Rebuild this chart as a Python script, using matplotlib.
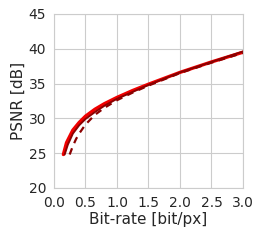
import matplotlib
matplotlib.use("Agg")
import matplotlib.pyplot as plt
import seaborn as sns

# rate-distortion curves
rate_a = [0.15, 0.2, 0.3, 0.4, 0.5, 0.65, 0.8, 1.0, 1.25, 1.5, 2.0, 2.5, 3.0]
psnr_a = [24.8, 26.5, 28.3, 29.4, 30.3, 31.3, 32.1, 33.0, 34.0, 34.9, 36.6, 38.1, 39.5]

rate_b = [0.17, 0.22, 0.3, 0.4, 0.5, 0.65, 0.8, 1.0, 1.25, 1.5, 2.0, 2.5, 3.0]
psnr_b = [24.8, 26.2, 27.8, 29.0, 29.9, 30.9, 31.8, 32.8, 33.8, 34.8, 36.6, 38.1, 39.6]

rate_c = [0.25, 0.3, 0.35, 0.4, 0.5, 0.65, 0.8, 1.0, 1.25, 1.5, 2.0, 2.5, 3.0]
psnr_c = [24.8, 26.0, 27.0, 27.8, 29.1, 30.5, 31.5, 32.6, 33.7, 34.7, 36.5, 38.0, 39.4]

x_ticks = [0.0, 0.5, 1.0, 1.5, 2.0, 2.5, 3.0]
y_ticks = [20, 25, 30, 35, 40, 45]

sns.set_style("whitegrid")
plt.rcParams['font.family'] = ['DejaVu Sans']
plt.rcParams['font.size'] = 10

fig = plt.figure(figsize=(2.63, 2.4), dpi=100)
ax = fig.add_axes([0.205, 0.217, 0.719, 0.725])

ax.plot(rate_a, psnr_a, color='#f00000', lw=2.4)
ax.plot(rate_b, psnr_b, color='#8b0000', lw=1.4)
ax.plot(rate_c, psnr_c, color='#8b0000', lw=1.6, ls=(0, (3, 2.5)))

ax.set_xlim(0, 3)
ax.set_ylim(20, 45)
ax.set_xticks(x_ticks)
ax.set_yticks(y_ticks)
ax.set_xticklabels([f"{v:.1f}" for v in x_ticks])
ax.tick_params(labelsize=10, pad=2)
ax.set_xlabel("Bit-rate [bit/px]", fontsize=11, labelpad=2)
ax.set_ylabel("PSNR [dB]", fontsize=11, labelpad=2)

fig.savefig("out.png", dpi=100)
